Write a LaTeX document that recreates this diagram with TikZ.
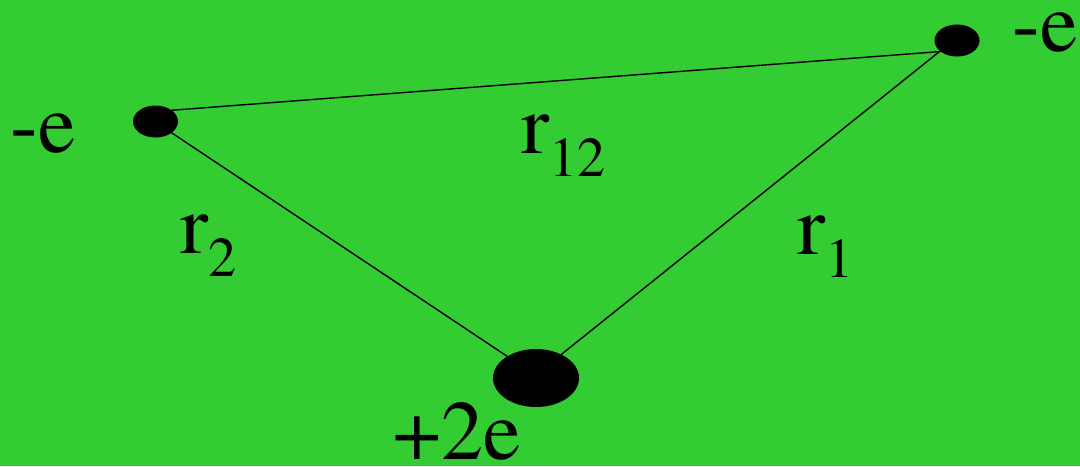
\documentclass[tikz,border=0pt]{standalone}
\usepackage[T1]{fontenc}
\usepackage{mathptmx}
\usetikzlibrary{shapes.geometric}
\definecolor{bggreen}{RGB}{51,204,51}
\newcommand{\idx}[1]{\raisebox{-6.8pt}{\fontsize{16}{18}\selectfont #1}}

\begin{document}
\begin{tikzpicture}[x=0.01cm,y=-0.01cm]
  \tikzstyle{electron}=[ellipse,fill=black,minimum width=0.45cm,minimum height=0.32cm,inner sep=0pt,outer sep=0pt]
  \tikzstyle{nucleus}=[ellipse,fill=black,minimum width=0.86cm,minimum height=0.58cm,inner sep=0pt,outer sep=0pt]
  \tikzstyle{lbl}=[anchor=base west,inner sep=0pt,font=\rmfamily\fontsize{24}{28}\selectfont]

  \useasboundingbox (0,0) rectangle (1080,466);
  \fill[bggreen] (0,0) rectangle (1080,466);

  \foreach \name/\x/\y in {1/957/40.5, 2/155.5/121.5}
    \node[electron] (e-\name) at (\x,\y) {};
  \node[nucleus] (nuc) at (536,378) {};

  \node[lbl] (q-2) at (10,152) {-e};
  \node[lbl] (q-1) at (1012,51) {-e};
  \node[lbl] (q-nuc) at (393,459) {+2e};
  \node[lbl] (r-12) at (521,153) {r\idx{12}};
  \node[lbl] (r-2) at (180,253) {r\idx{2}};
  \node[lbl] (r-1) at (797,254) {r\idx{1}};

  \foreach \from/\to in {e-2.35/e-1.214, e-2.325/nuc.143, e-1.212/nuc.43}
    \draw[line width=0.4pt] (\from) -- (\to);
\end{tikzpicture}
\end{document}
